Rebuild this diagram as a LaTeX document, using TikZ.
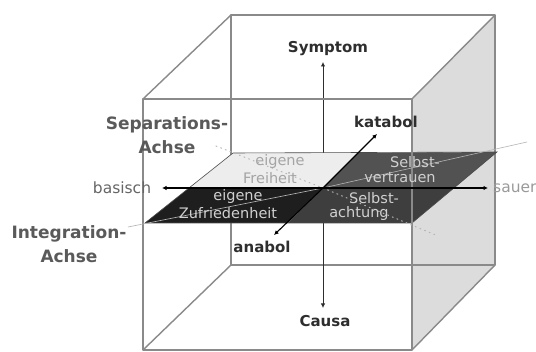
\documentclass[tikz,border=0pt]{standalone}
\usepackage{fontspec}
\setmainfont{DejaVu Sans}
\usetikzlibrary{arrows.meta}
\definecolor{edgecol}{HTML}{8A8A8A}
\definecolor{sideface}{HTML}{DCDCDC}
\definecolor{qbl}{HTML}{EDEDED}
\definecolor{qbr}{HTML}{525252}
\definecolor{qfl}{HTML}{1E1E1E}
\definecolor{qfr}{HTML}{3E3E3E}
\definecolor{labdark}{HTML}{2E2E2E}
\definecolor{labgray}{HTML}{666666}
\definecolor{saucol}{HTML}{9A9A9A}
\definecolor{achsecol}{HTML}{5A5A5A}
\definecolor{ptext}{HTML}{D0D0D0}
\definecolor{ptextlight}{HTML}{A4A4A4}
\definecolor{leadcol}{HTML}{B5B5B5}
\tikzset{
  cube/.style={draw=edgecol, line width=1.4pt, line join=round},
  axisarrow/.style={draw=black, line width=1.1pt, -{Latex[length=4.5pt,width=4.5pt]}},
  vaxis/.style={draw=labdark, line width=0.8pt, -{Latex[length=4.5pt,width=4.5pt]}},
  boldlab/.style={font=\bfseries\fontsize{15}{18}\selectfont, text=labdark, inner sep=0pt},
  graylab/.style={font=\fontsize{15.5}{18}\selectfont, text=labgray, inner sep=0pt},
  achselab/.style={font=\bfseries\fontsize{17}{24}\selectfont, text=achsecol, align=center, inner sep=0pt},
  planelab/.style={font=\fontsize{14.5}{16}\selectfont, text=ptext, inner sep=0pt},
  planelablight/.style={font=\fontsize{14.5}{16}\selectfont, text=ptextlight, inner sep=0pt},
  leader/.style={draw=leadcol, line width=0.6pt},
  sepdots/.style={draw=leadcol, line width=1pt, dash pattern=on 1pt off 4pt, line cap=round}
}
\begin{document}
\begin{tikzpicture}[x=1pt,y=-1pt]
\useasboundingbox[fill=white] (0,0) rectangle (536,352);
% key points
\coordinate (c) at (323,188);
\coordinate (symTip) at (323,62);
\coordinate (causaTip) at (323,308);
\coordinate (basTip) at (162,188);
\coordinate (sauTip) at (488,188);
\coordinate (katTip) at (377,134);
\coordinate (anaTip) at (274,235);
\coordinate (intL) at (128,227);
\coordinate (intR) at (527,142);
\coordinate (sepL) at (216,146);
\coordinate (sepR) at (438,236);
% right side face
\fill[sideface] (412,99) -- (495,15) -- (495,265) -- (412,350) -- cycle;
% back face and depth edges
\draw[cube] (231,15) rectangle (495,265);
\draw[cube] (143,99) -- (231,15) (412,99) -- (495,15) (143,350) -- (231,265) (412,350) -- (495,265);
% vertical axis (partly hidden by the plane)
\draw[vaxis] (c) -- (symTip);
\draw[vaxis] (c) -- (causaTip);
% plane quadrants
\fill[qfl] (145,223) -- (288,223) -- (323,188) -- (189,188) -- cycle;
\fill[qfr] (288,223) -- (412,223) -- (454,188) -- (323,188) -- cycle;
\fill[qbl] (189,188) -- (323,188) -- (358,153) -- (233,153) -- cycle;
\fill[qbr] (323,188) -- (454,188) -- (497,152) -- (358,153) -- cycle;
\draw[draw=black!70, line width=0.6pt] (145,223) -- (412,223) -- (497,152) -- (233,153) -- cycle;
% front face
\draw[cube] (143,99) rectangle (412,350);
% leader lines
\draw[leader] (intL) -- (c) -- (intR);
\draw[sepdots] (sepL) -- (c) -- (sepR);
% axes
\draw[axisarrow] (c) -- (basTip);
\draw[axisarrow] (c) -- (sauTip);
\draw[axisarrow] (c) -- (katTip);
\draw[axisarrow] (c) -- (anaTip);
% labels
\node[boldlab] (sym) at (328,49) {Symptom};
\node[boldlab] (cau) at (325,321) {Causa};
\node[boldlab] (kat) at (386,122) {katabol};
\node[boldlab] (ana) at (262,247) {anabol};
\node[graylab] (bas) at (122,188) {basisch};
\node[graylab, text=saucol, anchor=west] (sau) at (493,188) {sauer};
\node[achselab] (sep) at (167,135) {Separations-\\Achse};
\node[achselab] (int) at (69,244) {Integration-\\Achse};
% plane texts
\node[planelablight] (ei1) at (280,162) {eigene};
\node[planelablight] (fr) at (270,178) {Freiheit};
\node[planelab] (sv1) at (415,162) {Selbst-};
\node[planelab] (sv2) at (400,178) {vertrauen};
\node[planelab] (ez1) at (238,197) {eigene};
\node[planelab] (ez2) at (228,213) {Zufriedenheit};
\node[planelab] (sa1) at (374,198) {Selbst-};
\node[planelab] (sa2) at (359,214) {achtung};
\end{tikzpicture}
\end{document}
